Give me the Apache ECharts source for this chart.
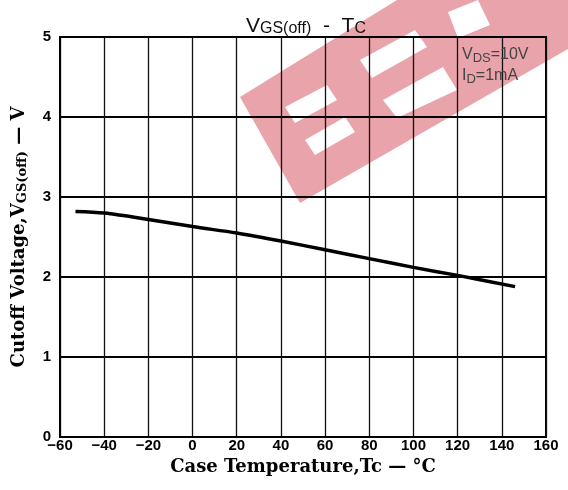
<!DOCTYPE html>
<html>
<head>
<meta charset="utf-8">
<script src="https://cdn.jsdelivr.net/npm/echarts@6/dist/echarts.min.js"></script>
<style>html,body{margin:0;padding:0;background:#fff}#c{width:568px;height:490px}</style>
</head>
<body>
<div id="c"></div>
<script>
// Data
const temperatureC = [-53, -40, -20, 0, 20, 40, 60, 80, 100, 120, 146];
const cutoffVoltage = [2.82, 2.80, 2.72, 2.63, 2.55, 2.45, 2.34, 2.23, 2.12, 2.02, 1.88];
const xTickValues = [-60, -40, -20, 0, 20, 40, 60, 80, 100, 120, 140, 160];
const xTickLabels = ['\u221260', '\u221240', '\u221220', '0', '20', '40', '60', '80', '100', '120', '140', '160'];
const yTickLabels = ['0', '1', '2', '3', '4', '5'];

const chart = echarts.init(document.getElementById('c'), null, {renderer: 'canvas'});
const seriesData = temperatureC.map((t, i) => [t, cutoffVoltage[i]]);

const pink = '#e9a3aa';
const wm = [
  {pts: [[240,97],[397,0],[568,0],[568,49],[300,203]], fill: pink, z: -3},
  {pts: [[285,107],[327,85],[337,100],[295,123]], fill: '#fff', z: -2},
  {pts: [[305,140],[345,117],[355,132],[315,155]], fill: '#fff', z: -2},
  {pts: [[360,60],[415,30],[427,47],[372,78]], fill: '#fff', z: -2},
  {pts: [[383,100],[443,67],[457,90],[397,118]], fill: '#fff', z: -2},
  {pts: [[448,12],[478,0],[490,25],[458,38]], fill: '#fff', z: -2}
];

const sans = 'Liberation Sans, Arial, sans-serif';
const serif = 'DejaVu Serif, Liberation Serif, serif';

chart.setOption({
  animation: false,
  backgroundColor: '#fff',
  graphic: wm.map(w => ({
    type: 'polygon', z: w.z, silent: true,
    shape: {points: w.pts},
    style: {fill: w.fill}
  })),
  title: [
    {
      text: 'V{s|GS(off)}  -  T{s|C}',
      left: 241, top: 10,
      textStyle: {
        fontFamily: sans, fontSize: 21, fontWeight: 'normal', color: '#111',
        rich: {s: {fontFamily: sans, fontSize: 16, color: '#111', verticalAlign: 'bottom', padding: [6,0,0,0]}}
      }
    },
    {
      text: 'V{s|DS}=10V\nI{s|D}=1mA',
      left: 457, top: 39,
      textStyle: {
        fontFamily: sans, fontSize: 16, fontWeight: 'normal', color: '#444', lineHeight: 21,
        rich: {s: {fontFamily: sans, fontSize: 13, color: '#444', verticalAlign: 'bottom', padding: [5,0,0,0]}}
      }
    }
  ],
  grid: {
    left: 60, right: 22, top: 37, bottom: 53,
    containLabel: false, outerBoundsMode: 'none',
    show: true, borderColor: '#000', borderWidth: 2, backgroundColor: 'transparent'
  },
  xAxis: {
    type: 'value', min: -60, max: 160, interval: 20,
    name: 'Case Temperature,Tc \u2014 \u00b0C',
    nameLocation: 'middle', nameGap: 21,
    nameTextStyle: {fontFamily: serif, fontSize: 18, fontWeight: 'bold', color: '#000'},
    axisLine: {show: true, onZero: false, lineStyle: {color: '#000', width: 2}},
    axisTick: {show: false},
    axisLabel: {
      margin: 1, color: '#000', fontFamily: sans, fontSize: 15, fontWeight: 'bold',
      formatter: v => { const i = xTickValues.indexOf(v); return i >= 0 ? xTickLabels[i] : ''; }
    },
    splitLine: {show: true, lineStyle: {color: '#111', width: 1.3}}
  },
  yAxis: {
    type: 'value', min: 0, max: 5, interval: 1,
    name: 'Cutoff Voltage,V{s|GS(off)} \u2014 V',
    nameLocation: 'middle', nameGap: 31, nameRotate: 90,
    nameTextStyle: {
      fontFamily: serif, fontSize: 18, fontWeight: 'bold', color: '#000',
      rich: {s: {fontFamily: serif, fontSize: 13, fontWeight: 'bold', color: '#000', verticalAlign: 'bottom', padding: [6,0,0,0]}}
    },
    axisLine: {show: true, onZero: false, lineStyle: {color: '#000', width: 2}},
    axisTick: {show: false},
    axisLabel: {
      margin: 9, color: '#000', fontFamily: sans, fontSize: 15, fontWeight: 'bold',
      formatter: v => yTickLabels[Math.round(v)] ?? ''
    },
    splitLine: {show: true, lineStyle: {color: '#000', width: 1.8}}
  },
  series: [{
    type: 'line',
    data: seriesData,
    smooth: 0.3,
    symbol: 'none',
    lineStyle: {color: '#000', width: 3.5},
    z: 5
  }]
});
</script>
</body>
</html>
